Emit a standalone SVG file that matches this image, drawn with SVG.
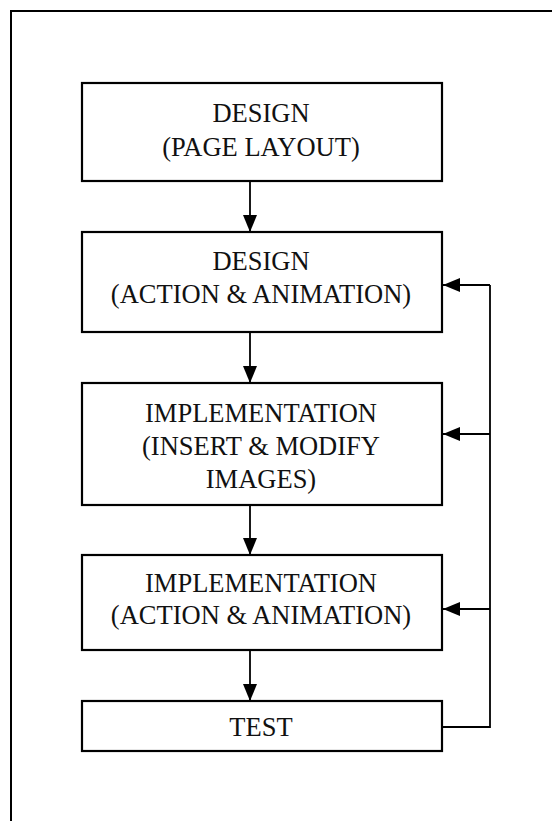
<svg xmlns="http://www.w3.org/2000/svg" width="552" height="821" viewBox="0 0 552 821">
<defs>
<style>
.box{fill:#fff;stroke:#000;stroke-width:2.2}
.lbl{font-family:"Liberation Serif","Times New Roman",serif;font-size:26.5px;fill:#111;text-anchor:middle}
.conn{fill:none;stroke:#000;stroke-width:1.8}
</style>
<marker id="ahd" viewBox="0 0 17 14" refX="17" refY="7" markerWidth="17" markerHeight="14" orient="auto" markerUnits="userSpaceOnUse">
<path d="M0,0 L17,7 L0,14 Z" fill="#000"/>
</marker>
</defs>
<rect x="0" y="0" width="552" height="821" fill="#fff"/>
<rect x="11" y="11" width="560" height="830" fill="none" stroke="#000" stroke-width="2"/>
<g id="n1">
<rect class="box" x="82" y="83" width="360" height="98"/>
<text class="lbl" x="261" y="122">DESIGN</text>
<text class="lbl" x="261" y="156">(PAGE LAYOUT)</text>
</g>
<g id="n2">
<rect class="box" x="82" y="232" width="360" height="100"/>
<text class="lbl" x="261" y="270">DESIGN</text>
<text class="lbl" x="261" y="303">(ACTION &amp; ANIMATION)</text>
</g>
<g id="n3">
<rect class="box" x="82" y="383" width="360" height="122"/>
<text class="lbl" x="261" y="422">IMPLEMENTATION</text>
<text class="lbl" x="261" y="455">(INSERT &amp; MODIFY</text>
<text class="lbl" x="261" y="488">IMAGES)</text>
</g>
<g id="n4">
<rect class="box" x="82" y="555" width="360" height="95"/>
<text class="lbl" x="261" y="592">IMPLEMENTATION</text>
<text class="lbl" x="261" y="624">(ACTION &amp; ANIMATION)</text>
</g>
<g id="n5">
<rect class="box" x="82" y="701" width="360" height="50"/>
<text class="lbl" x="261" y="736">TEST</text>
</g>
<g id="connectors">
<path class="conn" d="M250,181 V232" marker-end="url(#ahd)"/>
<path class="conn" d="M250,332 V383" marker-end="url(#ahd)"/>
<path class="conn" d="M250,505 V555" marker-end="url(#ahd)"/>
<path class="conn" d="M250,650 V701" marker-end="url(#ahd)"/>
<path class="conn" d="M442,727 H490 V285"/>
<path class="conn" d="M490,285 H443" marker-end="url(#ahd)"/>
<path class="conn" d="M490,434 H443" marker-end="url(#ahd)"/>
<path class="conn" d="M490,609 H443" marker-end="url(#ahd)"/>
</g>
</svg>
